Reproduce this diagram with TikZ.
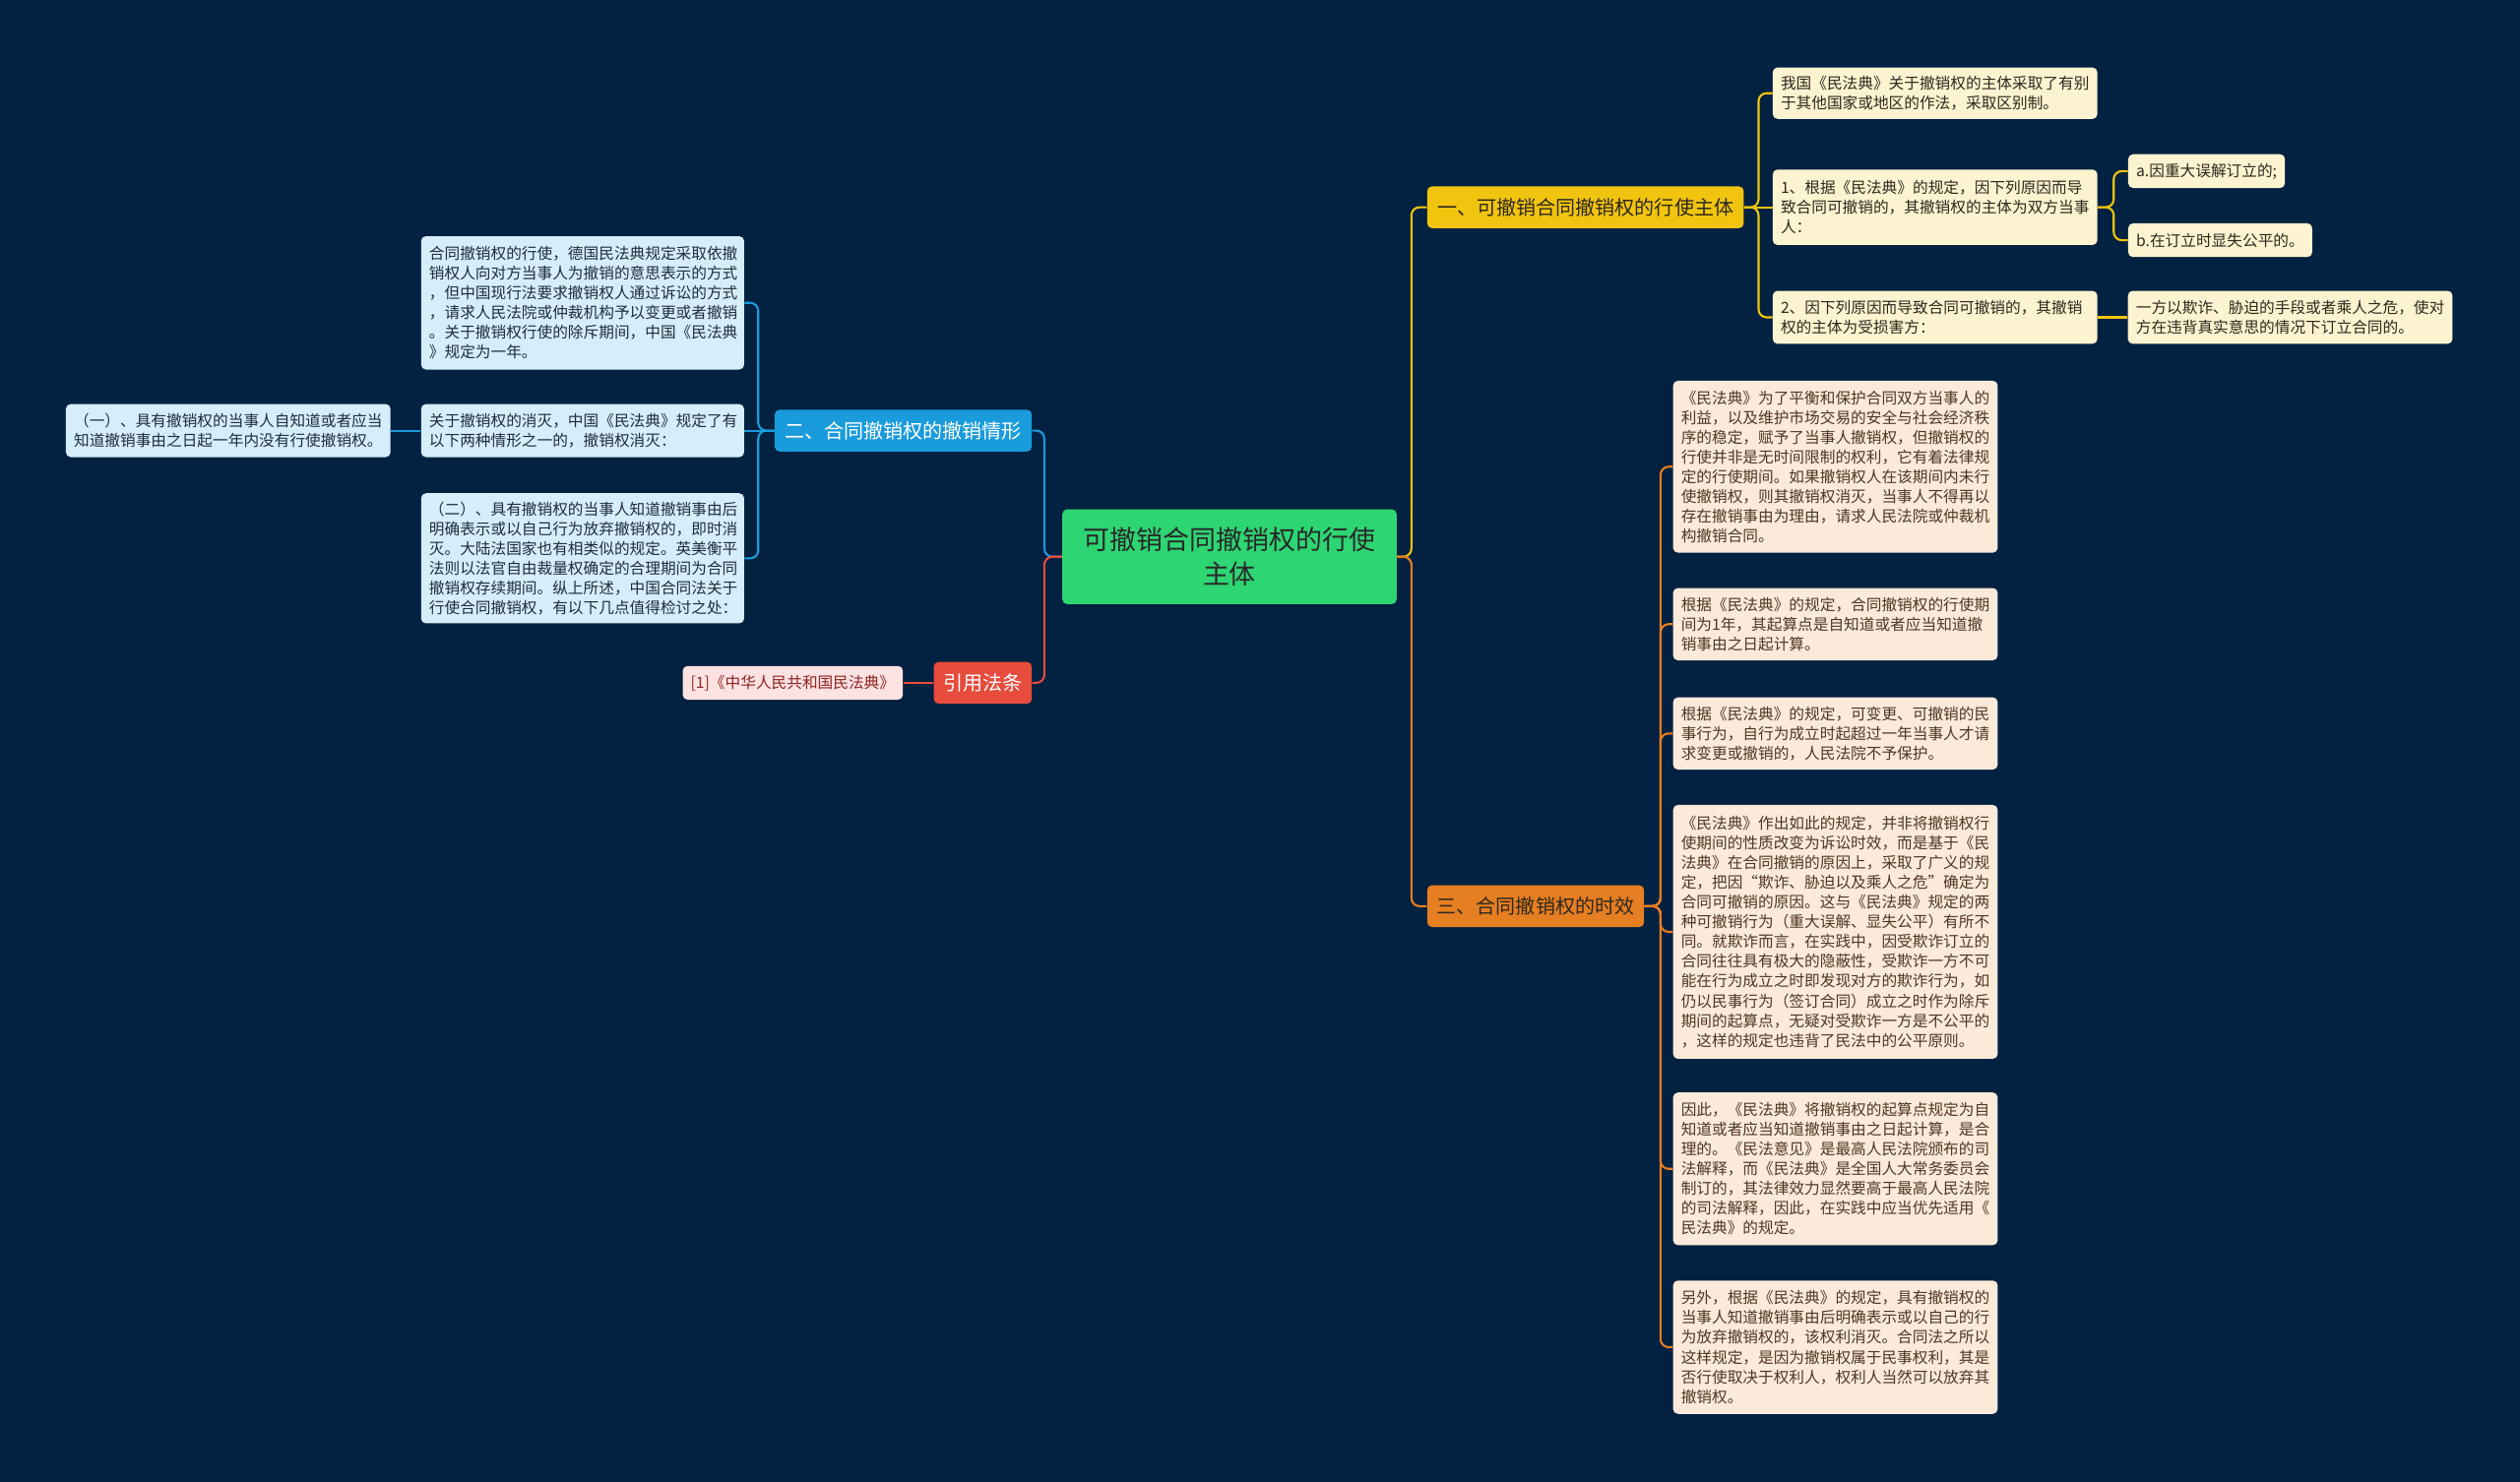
\documentclass[tikz,border=0pt]{standalone}
\usepackage{fontspec}
\setmainfont{Noto Sans CJK SC}
\usepackage{tikz}

\definecolor{bg}{RGB}{3,33,64}
\definecolor{rootgreen}{RGB}{46,213,115}
\definecolor{roottext}{RGB}{40,40,40}
\definecolor{yellowmain}{RGB}{241,196,15}
\definecolor{yellowlight}{RGB}{252,243,208}
\definecolor{orangemain}{RGB}{230,126,34}
\definecolor{orangelight}{RGB}{251,233,218}
\definecolor{bluemain}{RGB}{26,155,219}
\definecolor{bluelight}{RGB}{214,238,250}
\definecolor{redmain}{RGB}{231,76,60}
\definecolor{redlight}{RGB}{253,226,226}
\definecolor{darktext}{RGB}{45,40,30}
\definecolor{browntext}{RGB}{78,55,35}
\definecolor{bluetext}{RGB}{30,45,61}
\definecolor{redtext}{RGB}{140,35,35}

\begin{document}
\begin{tikzpicture}[x=1pt, y=-1pt,
	every node/.style={rounded corners=3pt, inner xsep=5pt, inner ysep=3pt},
	rootbox/.style={
		fill=rootgreen,
		text=roottext,
		text width=198pt,
		minimum height=59pt,
		align=center,
		font=\fontsize{16.5}{21}\selectfont
	},
	branch/.style={
		minimum height=26pt,
		align=center,
		font=\fontsize{12.3}{14}\selectfont
	},
	leaf/.style={
		align=left,
		font=\fontsize{9.6}{12.3}\selectfont
	},
	yleaf/.style={leaf, fill=yellowlight, text=darktext},
	oleaf/.style={leaf, fill=orangelight, text=browntext},
	bleaf/.style={leaf, fill=bluelight, text=bluetext},
	rleaf/.style={leaf, fill=redlight, text=redtext},
	link/.style={line width=1.3pt, rounded corners=5pt}
	]

	% Page size and background
	\useasboundingbox (0,0) rectangle (1568,922);
	\fill[bg] (-4,-4) rectangle (1572,926);

	% Central topic
	\node[rootbox] (root) at (765,346.5) {可撤销合同撤销权的行使\\主体};

	% Main branches
	\node[branch, fill=yellowmain, text=darktext, minimum width=197pt] (br1) at (986.5,129) {一、可撤销合同撤销权的行使主体};
	\node[branch, fill=orangemain, text=darktext, minimum width=135pt] (br3) at (955.5,564) {三、合同撤销权的时效};
	\node[branch, fill=bluemain, text=white, minimum width=160pt] (br2) at (562,268) {二、合同撤销权的撤销情形};
	\node[branch, fill=redmain, text=white, minimum width=61pt] (br4) at (611.5,425) {引用法条};

	% Branch one: subjects
	\node[yleaf, text width=192pt, minimum height=32pt] (y1) at (1204,58) {我国《民法典》关于撤销权的主体采取了有别\\于其他国家或地区的作法，采取区别制。};
	\node[yleaf, text width=192pt, minimum height=47pt] (y2) at (1204,129) {1、根据《民法典》的规定，因下列原因而导\\致合同可撤销的，其撤销权的主体为双方当事\\人：};
	\node[yleaf, anchor=west, minimum height=21pt] (y2a) at (1324,106.5) {a.因重大误解订立的;};
	\node[yleaf, anchor=west, minimum height=21pt] (y2b) at (1324,149.5) {b.在订立时显失公平的。};
	\node[yleaf, text width=192pt, minimum height=33pt] (y3) at (1204,197.5) {2、因下列原因而导致合同可撤销的，其撤销\\权的主体为受损害方：};
	\node[yleaf, text width=192pt, minimum height=33pt] (y3a) at (1425,197.5) {一方以欺诈、胁迫的手段或者乘人之危，使对\\方在违背真实意思的情况下订立合同的。};

	% Branch three: time limits
	\node[oleaf, text width=192pt, minimum height=107pt] (o1) at (1142,290.5) {《民法典》为了平衡和保护合同双方当事人的\\利益，以及维护市场交易的安全与社会经济秩\\序的稳定，赋予了当事人撤销权，但撤销权的\\行使并非是无时间限制的权利，它有着法律规\\定的行使期间。如果撤销权人在该期间内未行\\使撤销权，则其撤销权消灭，当事人不得再以\\存在撤销事由为理由，请求人民法院或仲裁机\\构撤销合同。};
	\node[oleaf, text width=192pt, minimum height=45pt] (o2) at (1142,388.5) {根据《民法典》的规定，合同撤销权的行使期\\间为1年，其起算点是自知道或者应当知道撤\\销事由之日起计算。};
	\node[oleaf, text width=192pt, minimum height=45pt] (o3) at (1142,456.5) {根据《民法典》的规定，可变更、可撤销的民\\事行为，自行为成立时起超过一年当事人才请\\求变更或撤销的，人民法院不予保护。};
	\node[oleaf, text width=192pt, minimum height=158pt] (o4) at (1142,580) {《民法典》作出如此的规定，并非将撤销权行\\使期间的性质改变为诉讼时效，而是基于《民\\法典》在合同撤销的原因上，采取了广义的规\\定，把因“欺诈、胁迫以及乘人之危”确定为\\合同可撤销的原因。这与《民法典》规定的两\\种可撤销行为（重大误解、显失公平）有所不\\同。就欺诈而言，在实践中，因受欺诈订立的\\合同往往具有极大的隐蔽性，受欺诈一方不可\\能在行为成立之时即发现对方的欺诈行为，如\\仍以民事行为（签订合同）成立之时作为除斥\\期间的起算点，无疑对受欺诈一方是不公平的\\，这样的规定也违背了民法中的公平原则。};
	\node[oleaf, text width=192pt, minimum height=95pt] (o5) at (1142,727.5) {因此，《民法典》将撤销权的起算点规定为自\\知道或者应当知道撤销事由之日起计算，是合\\理的。《民法意见》是最高人民法院颁布的司\\法解释，而《民法典》是全国人大常务委员会\\制订的，其法律效力显然要高于最高人民法院\\的司法解释，因此，在实践中应当优先适用《\\民法典》的规定。};
	\node[oleaf, text width=192pt, minimum height=83pt] (o6) at (1142,838.5) {另外，根据《民法典》的规定，具有撤销权的\\当事人知道撤销事由后明确表示或以自己的行\\为放弃撤销权的，该权利消灭。合同法之所以\\这样规定，是因为撤销权属于民事权利，其是\\否行使取决于权利人，权利人当然可以放弃其\\撤销权。};

	% Branch two: cases of revocation
	\node[bleaf, text width=191pt, minimum height=83pt] (b1) at (362.5,188.5) {合同撤销权的行使，德国民法典规定采取依撤\\销权人向对方当事人为撤销的意思表示的方式\\，但中国现行法要求撤销权人通过诉讼的方式\\，请求人民法院或仲裁机构予以变更或者撤销\\。关于撤销权行使的除斥期间，中国《民法典\\》规定为一年。};
	\node[bleaf, text width=191pt, minimum height=33pt] (b2) at (362.5,268) {关于撤销权的消灭，中国《民法典》规定了有\\以下两种情形之一的，撤销权消灭：};
	\node[bleaf, text width=192pt, minimum height=33pt] (b2a) at (142,268) {（一）、具有撤销权的当事人自知道或者应当\\知道撤销事由之日起一年内没有行使撤销权。};
	\node[bleaf, text width=191pt, minimum height=81pt] (b3) at (362.5,347.5) {（二）、具有撤销权的当事人知道撤销事由后\\明确表示或以自己行为放弃撤销权的，即时消\\灭。大陆法国家也有相类似的规定。英美衡平\\法则以法官自由裁量权确定的合理期间为合同\\撤销权存续期间。纵上所述，中国合同法关于\\行使合同撤销权，有以下几点值得检讨之处：};

	% Branch four: cited law
	\node[rleaf, anchor=east, minimum height=21pt] (r1) at (562,425) {[1]《中华人民共和国民法典》};

	% Connectors from the central topic
	\draw[link, draw=yellowmain] (root.east) -- ++(9,0) |- (br1.west);
	\draw[link, draw=orangemain] (root.east) -- ++(9,0) |- (br3.west);
	\draw[link, draw=bluemain] (root.west) -- ++(-11,0) |- (br2.east);
	\draw[link, draw=redmain] (root.west) -- ++(-11,0) |- (br4.east);

	% Yellow connectors
	\draw[link, draw=yellowmain] (br1.east) -- ++(9,0) |- (y1.west);
	\draw[link, draw=yellowmain] (br1.east) -- (y2.west);
	\draw[link, draw=yellowmain] (br1.east) -- ++(9,0) |- (y3.west);
	\draw[link, draw=yellowmain] (y2.east) -- ++(10,0) |- (y2a.west);
	\draw[link, draw=yellowmain] (y2.east) -- ++(10,0) |- (y2b.west);
	\draw[link, draw=yellowmain] (y3.east) -- (y3a.west);

	% Orange connectors
	\draw[link, draw=orangemain] (br3.east) -- ++(10,0) |- (o1.west);
	\draw[link, draw=orangemain] (br3.east) -- ++(10,0) |- (o2.west);
	\draw[link, draw=orangemain] (br3.east) -- ++(10,0) |- (o3.west);
	\draw[link, draw=orangemain] (br3.east) -- ++(10,0) |- (o4.west);
	\draw[link, draw=orangemain] (br3.east) -- ++(10,0) |- (o5.west);
	\draw[link, draw=orangemain] (br3.east) -- ++(10,0) |- (o6.west);

	% Blue connectors
	\draw[link, draw=bluemain] (br2.west) -- ++(-10,0) |- (b1.east);
	\draw[link, draw=bluemain] (br2.west) -- (b2.east);
	\draw[link, draw=bluemain] (br2.west) -- ++(-10,0) |- (b3.east);
	\draw[link, draw=bluemain] (b2.west) -- (b2a.east);

	% Red connector
	\draw[link, draw=redmain] (br4.west) -- (r1.east);

\end{tikzpicture}
\end{document}
